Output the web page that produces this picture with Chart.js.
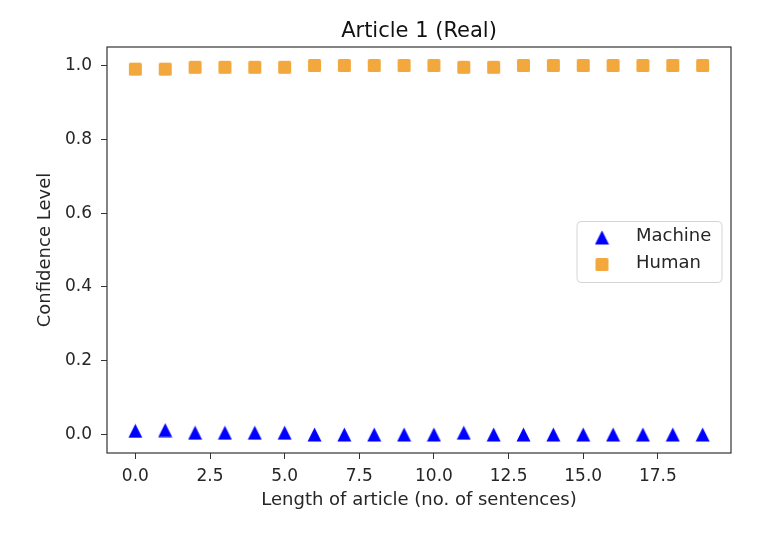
<!DOCTYPE html>
<html>
<head>
<meta charset="utf-8">
<title>Article 1 (Real)</title>
<script src="https://cdn.jsdelivr.net/npm/chart.js@4.4.0/dist/chart.umd.min.js"></script>
<style>
  html, body { margin: 0; padding: 0; background: #fff; }
  canvas { display: block; }
</style>
</head>
<body>
<canvas id="chart" width="784" height="538"></canvas>
<script>
'use strict';

// values
let sentences = [0, 1, 2, 3, 4, 5, 6, 7, 8, 9, 10, 11, 12, 13, 14, 15, 16, 17, 18, 19];
let machineConfidence = [0.010, 0.012, 0.005, 0.005, 0.005, 0.005, 0.0, 0.0, 0.0, 0.0,
  0.0, 0.005, 0.0, 0.0, 0.0, 0.0, 0.0, 0.0, 0.0, 0.0];
let humanConfidence = [0.990, 0.990, 0.995, 0.995, 0.995, 0.995, 1.0, 1.0, 1.0, 1.0,
  1.0, 0.995, 0.995, 1.0, 1.0, 1.0, 1.0, 1.0, 1.0, 1.0];
let xTicks = [0, 2.5, 5, 7.5, 10, 12.5, 15, 17.5];
let yTicks = [0, 0.2, 0.4, 0.6, 0.8, 1.0];
let chartTitle = 'Article 1 (Real)';

let canvasElem = document.getElementById('chart');
let fontFamily = '"DejaVu Sans", sans-serif';
let textColor = '#262626';

// matplotlib-like markers: '^' and 's'
function makeMarker(shape, color) {
  let c = document.createElement('canvas');
  c.width = 15;
  c.height = 15;
  let ctx = c.getContext('2d');
  ctx.fillStyle = color;
  ctx.beginPath();
  if (shape === 'triangle') {
    ctx.moveTo(7.5, 0.5);
    ctx.lineTo(14.5, 14.5);
    ctx.lineTo(0.5, 14.5);
    ctx.closePath();
  } else {
    ctx.roundRect(1, 1, 13, 13, 1.5);
  }
  ctx.fill();
  return c;
}

let triangleMarker = makeMarker('triangle', '#0000ff');
let squareMarker = makeMarker('square', '#f2a83c');

function toPoints(xs, ys) {
  let pts = [];
  for (let i = 0; i < xs.length; i++) {
    pts.push({ x: xs[i], y: ys[i] });
  }
  return pts;
}

// box around the whole plot area + title centred over it
let frame = {
  id: 'frame',
  afterDatasetsDraw(chart) {
    let a = chart.chartArea;
    let ctx = chart.ctx;
    ctx.save();
    ctx.strokeStyle = '#333';
    ctx.lineWidth = 1.2;
    ctx.strokeRect(a.left, a.top, a.right - a.left, a.bottom - a.top);
    ctx.font = '21px ' + fontFamily;
    ctx.fillStyle = '#111';
    ctx.textAlign = 'center';
    ctx.textBaseline = 'middle';
    ctx.fillText(chartTitle, (a.left + a.right) / 2, a.top - 15);
    ctx.restore();
  }
};

// legend placed at centre right like matplotlib's loc='center right'
let sideLegend = {
  id: 'sideLegend',
  afterDraw(chart) {
    let a = chart.chartArea;
    let ctx = chart.ctx;
    let w = 145, h = 61;
    let left = a.right - 9 - w;
    let top = (a.top + a.bottom) / 2 - h / 2 + 2;
    ctx.save();
    ctx.beginPath();
    ctx.roundRect(left, top, w, h, 4);
    ctx.fillStyle = 'rgba(255,255,255,0.8)';
    ctx.fill();
    ctx.strokeStyle = '#d4d4d4';
    ctx.lineWidth = 1;
    ctx.stroke();
    ctx.font = '18px ' + fontFamily;
    ctx.fillStyle = textColor;
    ctx.textBaseline = 'middle';
    chart.data.datasets.forEach(function (ds, i) {
      let rowY = top + 15 + i * 27;
      let img = ds.pointStyle;
      ctx.drawImage(img, left + 25 - img.width / 2, rowY + 1 - img.height / 2);
      ctx.fillText(ds.label, left + 59, rowY);
    });
    ctx.restore();
  }
};

let chartObj = {
  type: 'scatter',
  data: {
    datasets: [
      {
        label: 'Machine',
        data: toPoints(sentences, machineConfidence),
        pointStyle: triangleMarker,
        backgroundColor: '#0000ff',
        borderColor: '#0000ff'
      },
      {
        label: 'Human',
        data: toPoints(sentences, humanConfidence),
        pointStyle: squareMarker,
        backgroundColor: '#f2a83c',
        borderColor: '#f2a83c'
      }
    ]
  },
  options: {
    responsive: false,
    animation: false,
    layout: { padding: { top: 47, right: 53, bottom: 0, left: 0 } },
    plugins: {
      legend: { display: false },
      tooltip: { enabled: false },
      title: { display: false }
    },
    scales: {
      x: {
        type: 'linear',
        min: -0.95,
        max: 19.95,
        afterBuildTicks: function (scale) {
          scale.ticks = xTicks.map(function (v) { return { value: v }; });
        },
        afterFit: function (scale) { scale.height = 85; },
        border: { display: false },
        grid: { drawOnChartArea: false, drawTicks: true, tickLength: 6, color: '#333' },
        ticks: {
          color: textColor,
          padding: 7,
          maxRotation: 0,
          font: { family: fontFamily, size: 17 },
          callback: function (v) { return v.toFixed(1); }
        },
        title: {
          display: true,
          text: 'Length of article (no. of sentences)',
          color: textColor,
          font: { family: fontFamily, size: 18 },
          padding: { top: 0, bottom: 27 }
        }
      },
      y: {
        type: 'linear',
        min: -0.05,
        max: 1.05,
        afterBuildTicks: function (scale) {
          scale.ticks = yTicks.map(function (v) { return { value: v }; });
        },
        afterFit: function (scale) { scale.width = 107; },
        border: { display: false },
        grid: { drawOnChartArea: false, drawTicks: true, tickLength: 6, color: '#333' },
        ticks: {
          color: textColor,
          padding: 9,
          font: { family: fontFamily, size: 17 },
          callback: function (v) { return v.toFixed(1); }
        },
        title: {
          display: true,
          text: 'Confidence Level',
          color: textColor,
          font: { family: fontFamily, size: 18 },
          padding: { top: 35, bottom: 0 }
        }
      }
    }
  },
  plugins: [frame, sideLegend]
};

new Chart(canvasElem, chartObj);
</script>
</body>
</html>
